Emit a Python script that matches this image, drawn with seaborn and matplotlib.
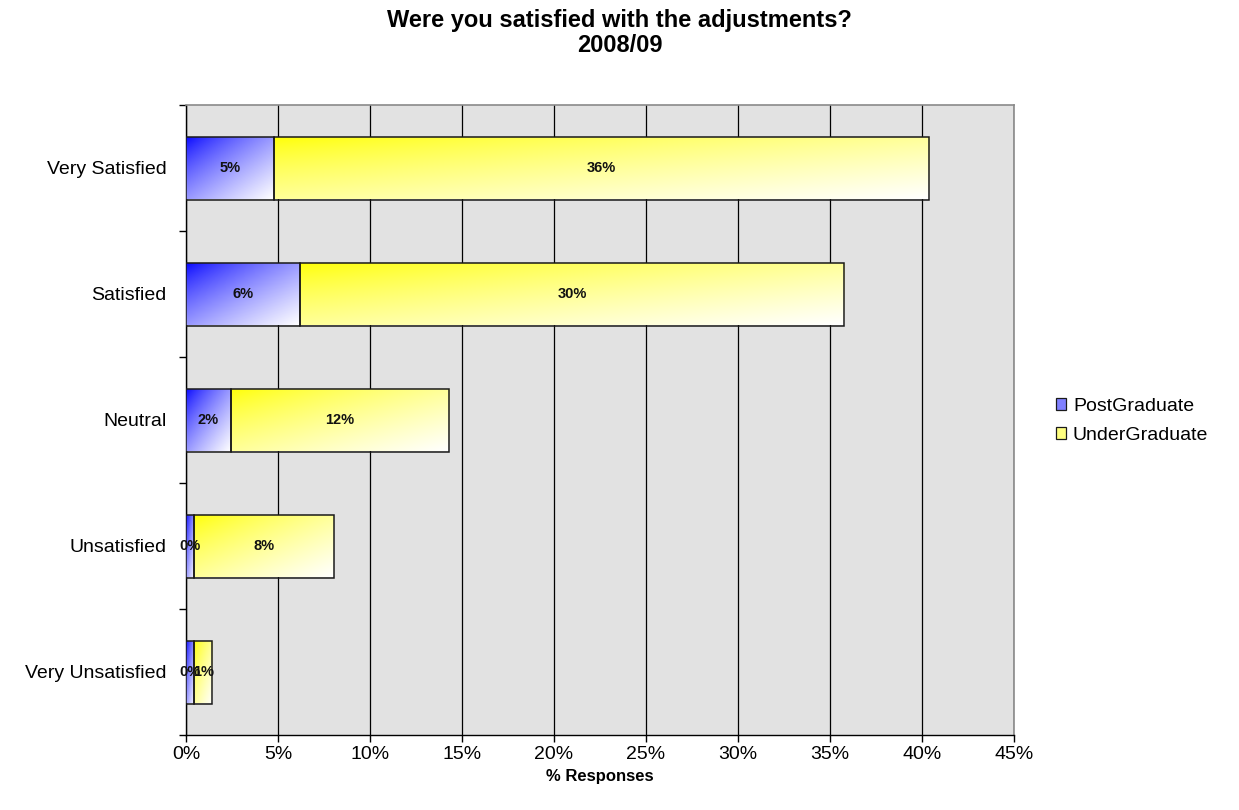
import numpy as np
import pandas as pd
import matplotlib
matplotlib.use("Agg")
import matplotlib.pyplot as plt
import seaborn as sns
from matplotlib.colors import to_rgb
from matplotlib.patches import Patch
from matplotlib.ticker import FixedLocator, FixedFormatter, NullFormatter, FuncFormatter

# ---- data ----
categories = ["Very Satisfied", "Satisfied", "Neutral", "Unsatisfied", "Very Unsatisfied"]
postgraduate = [4.76, 6.18, 2.42, 0.45, 0.45]
undergraduate = [35.6, 29.6, 11.88, 7.6, 0.98]
series_names = ["PostGraduate", "UnderGraduate"]
x_ticks = [0, 5, 10, 15, 20, 25, 30, 35, 40, 45]
title_lines = ["Were you satisfied with the adjustments?", "2008/09"]
x_label = "% Responses"

pg_color = "#0000ff"
ug_color = "#ffff00"

sns.set_theme(style="white")
plt.rcParams["font.family"] = ["Liberation Sans", "DejaVu Sans"]
plt.rcParams["text.color"] = "black"
plt.rcParams["axes.labelcolor"] = "black"
plt.rcParams["xtick.color"] = "black"
plt.rcParams["ytick.color"] = "black"

fig = plt.figure(figsize=(12.39, 8.10), dpi=100)
ax = fig.add_axes([186 / 1239, 75 / 810, 828 / 1239, 630 / 810])
ax.set_facecolor("#e2e2e2")

df = pd.DataFrame({"category": categories, "pg": postgraduate, "ug": undergraduate})

sns.barplot(data=df, y="category", x="pg", order=categories, color="#8080ff",
            width=0.5, edgecolor="#1a1a1a", linewidth=1.1, errorbar=None,
            ax=ax, zorder=3)
sns.barplot(data=df, y="category", x="ug", order=categories, color="#ffff80",
            width=0.5, left=postgraduate, edgecolor="#1a1a1a", linewidth=1.1,
            errorbar=None, ax=ax, zorder=3)


def gradient_fill(patch, color):
    x0, y0 = patch.get_x(), patch.get_y()
    w, h = patch.get_width(), patch.get_height()
    n = 80
    U, V = np.meshgrid(np.linspace(0, 1, n), np.linspace(0, 1, n))
    t = ((U + V) / 2) ** 0.75
    base = np.array(to_rgb(color))
    img = base[None, None, :] * (1 - t[..., None]) + t[..., None]
    im = ax.imshow(img, extent=(x0, x0 + w, y0 + h, y0), origin="upper",
                   aspect="auto", interpolation="bilinear", zorder=2.9)
    im.set_clip_path(patch)
    patch.set_facecolor("none")


for cont, col in zip(ax.containers, [pg_color, ug_color]):
    for p in cont.patches:
        gradient_fill(p, col)

for cont, vals in zip(ax.containers, [postgraduate, undergraduate]):
    ax.bar_label(cont, labels=[f"{v:.0f}%" for v in vals], label_type="center",
                 fontsize=10.5, fontweight="bold", color="#111111", zorder=5)

ax.set_xlim(x_ticks[0], x_ticks[-1])
ax.set_ylim(len(categories) - 0.5, -0.5)

# x axis
ax.xaxis.set_major_locator(FixedLocator(x_ticks))
ax.xaxis.set_major_formatter(FuncFormatter(lambda v, pos: f"{v:.0f}%"))
ax.tick_params(axis="x", which="major", bottom=True, direction="out", length=5,
               width=1, color="black", labelsize=14, pad=3, labelcolor="black")
ax.grid(axis="x", color="black", linewidth=0.9, zorder=1)
ax.set_axisbelow(True)

# y axis: ticks at boundaries, labels at centres
ax.yaxis.set_major_locator(FixedLocator(np.arange(-0.5, len(categories), 1.0)))
ax.yaxis.set_major_formatter(NullFormatter())
ax.yaxis.set_minor_locator(FixedLocator(range(len(categories))))
ax.yaxis.set_minor_formatter(FixedFormatter(categories))
ax.tick_params(axis="y", which="major", left=True, direction="out", length=5,
               width=1, color="black")
ax.tick_params(axis="y", which="minor", left=False, length=0, labelsize=14,
               pad=14, labelcolor="black")
ax.set_ylabel("")
ax.set_xlabel(x_label, fontsize=12, fontweight="bold", labelpad=4)

for side in ["left", "bottom"]:
    ax.spines[side].set_color("black")
    ax.spines[side].set_linewidth(1.0)
for side in ["top", "right"]:
    ax.spines[side].set_color("#8a8a8a")
    ax.spines[side].set_linewidth(1.2)

fig.text(0.5, 1 - 20 / 810, title_lines[0], ha="center", va="center",
         fontsize=17, fontweight="bold")
fig.text(0.5, 1 - 45 / 810, title_lines[1], ha="center", va="center",
         fontsize=17, fontweight="bold")

handles = [Patch(facecolor="#8080ff", edgecolor="#1a1a1a", linewidth=0.9),
           Patch(facecolor="#ffff80", edgecolor="#1a1a1a", linewidth=0.9)]
fig.legend(handles, series_names, loc="center left",
           bbox_to_anchor=(1038 / 1239, 1 - 421 / 810), frameon=False,
           fontsize=14, handlelength=0.55, handleheight=0.55,
           handletextpad=0.35, labelspacing=0.6)

fig.savefig("out.png", dpi=100)
